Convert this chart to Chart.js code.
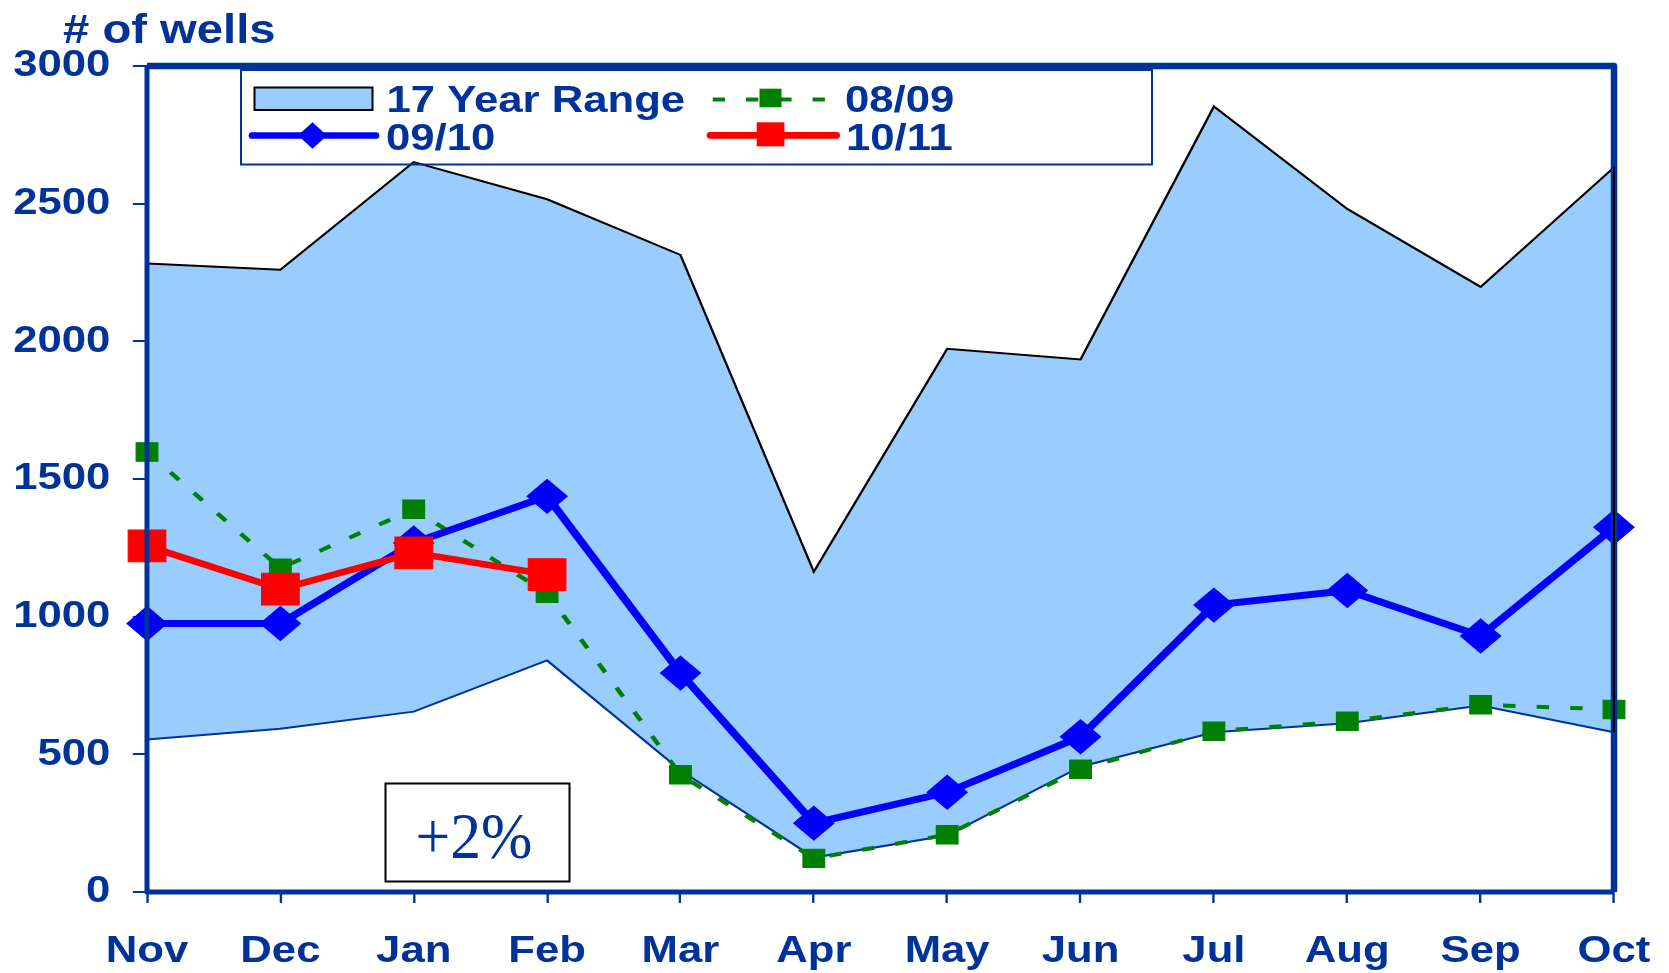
<!DOCTYPE html>
<html>
<head>
<meta charset="utf-8">
<script src="https://cdn.jsdelivr.net/npm/chart.js@4.4.1/dist/chart.umd.min.js"></script>
<style>
html, body { margin: 0; padding: 0; background: #ffffff; overflow: hidden; }
canvas { display: block; }
</style>
</head>
<body>
<canvas id="c" width="1414" height="973"></canvas>
<script>
// ---- data ----
const months = ['Nov', 'Dec', 'Jan', 'Feb', 'Mar', 'Apr', 'May', 'Jun', 'Jul', 'Aug', 'Sep', 'Oct'];
const rangeHigh = [2283, 2260, 2651, 2516, 2314, 1163, 1973, 1934, 2853, 2481, 2198, 2632];
const rangeLow  = [554, 593, 655, 841, 442, 125, 205, 455, 580, 613, 677, 580];
const s0809 = [1598, 1176, 1390, 1085, 426, 122, 208, 446, 584, 620, 680, 663];
const s0910 = [975, 975, 1268, 1437, 795, 250, 362, 564, 1042, 1095, 930, 1325];
const s1011 = [1257, 1100, 1232, 1153, null, null, null, null, null, null, null, null];
const yTickValues = [0, 500, 1000, 1500, 2000, 2500, 3000];
const yTickLabels = ['0', '500', '1000', '1500', '2000', '2500', '3000'];
const legendLabels = ['17 Year Range', '08/09', '09/10', '10/11'];
const titleText = '# of wells';
const noteText = '+2%';

// ---- geometry / style ----
const FULL_W = 1669, H = 973;
const canvas = document.getElementById('c');
const LOG_W = canvas.width;
const S = FULL_W / LOG_W;          // horizontal stretch of the original picture
const AREA_LEFT = 147, AREA_RIGHT = 1614, AREA_TOP = 66, AREA_BOTTOM = 892;
const NAVY = '#003399';
const FONT = 'Liberation Sans, Arial, sans-serif';

function stretchedText(ctx, text, x, y, size, color, sx) {
  ctx.save();
  ctx.translate(x, y);
  ctx.scale(sx, 1);
  ctx.font = 'bold ' + size + 'px ' + FONT;
  ctx.fillStyle = color;
  ctx.textAlign = 'left';
  ctx.textBaseline = 'alphabetic';
  ctx.fillText(text, 0, 0);
  ctx.restore();
}

const stretchPlugin = {
  id: 'stretch',
  beforeDraw(chart) {
    const ctx = chart.ctx;
    ctx.save();
    ctx.setTransform(S, 0, 0, 1, 0, 0);
  },
  afterDraw(chart) {
    const ctx = chart.ctx;
    ctx.setTransform(1, 0, 0, 1, 0, 0);
    const ca = chart.chartArea;
    const L = ca.left * S, R = ca.right * S, T = ca.top, B = ca.bottom;
    const ys = chart.scales.y;

    // plot frame
    ctx.save();
    ctx.strokeStyle = NAVY;
    ctx.lineJoin = 'round';
    ctx.lineWidth = 5;
    ctx.beginPath();
    ctx.moveTo(L, T); ctx.lineTo(L, B); ctx.lineTo(R, B);
    ctx.stroke();
    ctx.lineWidth = 6.5;
    ctx.beginPath();
    ctx.moveTo(L, T); ctx.lineTo(R, T); ctx.lineTo(R, B);
    ctx.stroke();
    // right edge of the range area
    const last = months.length - 1;
    ctx.strokeStyle = '#000000';
    ctx.lineWidth = 2;
    ctx.beginPath();
    ctx.moveTo(R, ys.getPixelForValue(rangeHigh[last]));
    ctx.lineTo(R, ys.getPixelForValue(rangeLow[last]));
    ctx.stroke();
    ctx.restore();

    // title
    stretchedText(ctx, titleText, 63, 43, 40, NAVY, S);

    // legend
    ctx.save();
    ctx.strokeStyle = NAVY;
    ctx.lineWidth = 2;
    ctx.strokeRect(241, 70, 911, 94.5);
    // range swatch
    ctx.fillStyle = '#99ccff';
    ctx.fillRect(254.5, 87.5, 118, 22.5);
    ctx.strokeStyle = '#000000';
    ctx.lineWidth = 2;
    ctx.strokeRect(254.5, 87.5, 118, 22.5);
    // 08/09 sample
    ctx.strokeStyle = '#008000';
    ctx.lineWidth = 4;
    ctx.setLineDash([12.3, 21]);
    ctx.beginPath(); ctx.moveTo(712.7, 99.5); ctx.lineTo(825, 99.5); ctx.stroke();
    ctx.setLineDash([]);
    ctx.fillStyle = '#008000';
    ctx.fillRect(770.5 - 11, 98 - 9.3, 22, 18.6);
    // 09/10 sample
    ctx.strokeStyle = '#0000ff';
    ctx.lineWidth = 6.7;
    ctx.lineCap = 'round';
    ctx.beginPath(); ctx.moveTo(252, 135.5); ctx.lineTo(376, 135.5); ctx.stroke();
    ctx.fillStyle = '#0000ff';
    ctx.beginPath();
    ctx.moveTo(312.5 - 14.5, 135.5); ctx.lineTo(312.5, 135.5 - 13.2);
    ctx.lineTo(312.5 + 14.5, 135.5); ctx.lineTo(312.5, 135.5 + 13.2);
    ctx.closePath(); ctx.fill();
    // 10/11 sample
    ctx.strokeStyle = '#ff0000';
    ctx.beginPath(); ctx.moveTo(710, 135.3); ctx.lineTo(836.7, 135.3); ctx.stroke();
    ctx.fillStyle = '#ff0000';
    ctx.fillRect(770.5 - 13.8, 134.3 - 12, 27.7, 24);
    ctx.restore();
    stretchedText(ctx, legendLabels[0], 386.5, 112, 37, NAVY, S);
    stretchedText(ctx, legendLabels[1], 845, 112, 37, NAVY, S);
    stretchedText(ctx, legendLabels[2], 386, 149.5, 37, NAVY, S);
    stretchedText(ctx, legendLabels[3], 846, 149.5, 37, NAVY, S);

    // note box
    ctx.save();
    ctx.strokeStyle = '#000000';
    ctx.lineWidth = 2;
    ctx.strokeRect(385.5, 783.5, 184, 98);
    ctx.translate(474, 858);
    ctx.scale(0.934, 1);
    ctx.font = '66px "Liberation Serif", "Times New Roman", serif';
    ctx.fillStyle = NAVY;
    ctx.textAlign = 'center';
    ctx.textBaseline = 'alphabetic';
    ctx.fillText(noteText, 0, 0);
    ctx.restore();

    ctx.restore();
  }
};

const tickFont = { family: FONT, size: 37, weight: 'bold' };

const chart = new Chart(canvas, {
  type: 'line',
  data: {
    labels: months,
    datasets: [
      { label: legendLabels[0] + ' high', data: rangeHigh, borderColor: '#000000', borderWidth: 2,
        backgroundColor: '#99ccff', fill: '+1', pointRadius: 0, tension: 0, order: 5 },
      { label: legendLabels[0] + ' low', data: rangeLow, borderColor: NAVY, borderWidth: 2,
        fill: false, pointRadius: 0, tension: 0, order: 4 },
      { label: legendLabels[1], data: s0809, borderColor: '#008000', borderWidth: 4, borderDash: [10.5, 18],
        pointStyle: 'rect', pointRadius: 13, pointBackgroundColor: '#008000', pointBorderColor: '#008000',
        pointBorderWidth: 1, fill: false, tension: 0, order: 3 },
      { label: legendLabels[2], data: s0910, borderColor: '#0000ff', borderWidth: 7,
        pointStyle: 'rectRot', pointRadius: 17, pointBackgroundColor: '#0000ff', pointBorderColor: '#0000ff',
        pointBorderWidth: 1, fill: false, tension: 0, order: 2 },
      { label: legendLabels[3], data: s1011, borderColor: '#ff0000', borderWidth: 6.5,
        pointStyle: 'rect', pointRadius: 22.5, pointBackgroundColor: '#ff0000', pointBorderColor: '#ff0000',
        pointBorderWidth: 1, fill: false, tension: 0, spanGaps: false, order: 1 }
    ]
  },
  options: {
    responsive: false,
    animation: false,
    devicePixelRatio: 1,
    layout: { padding: { left: 0, right: LOG_W - AREA_RIGHT / S, top: AREA_TOP, bottom: 0 } },
    plugins: { legend: { display: false }, tooltip: { enabled: false }, title: { display: false } },
    scales: {
      x: {
        type: 'category',
        offset: false,
        afterFit: s => { s.height = H - AREA_BOTTOM; s.paddingLeft = 0; s.paddingRight = 0; },
        border: { display: false },
        grid: { drawOnChartArea: false, drawTicks: true, tickLength: 11, color: NAVY, lineWidth: 2, offset: false },
        ticks: { color: NAVY, font: tickFont, padding: 27, maxRotation: 0, autoSkip: false }
      },
      y: {
        min: 0, max: 3000,
        afterBuildTicks: s => { s.ticks = yTickValues.map(v => ({ value: v })); },
        afterFit: s => { s.width = AREA_LEFT / S; s.paddingTop = 0; s.paddingBottom = 0; },
        border: { display: false },
        grid: { drawOnChartArea: false, drawTicks: true, tickLength: 12, color: NAVY, lineWidth: 2 },
        ticks: { color: NAVY, font: tickFont, padding: 19,
                 callback: (v) => yTickLabels[yTickValues.indexOf(v)] }
      }
    }
  },
  plugins: [stretchPlugin]
});

canvas.width = FULL_W;
canvas.height = H;
canvas.style.width = FULL_W + 'px';
canvas.style.height = H + 'px';
chart.draw();
</script>
</body>
</html>
